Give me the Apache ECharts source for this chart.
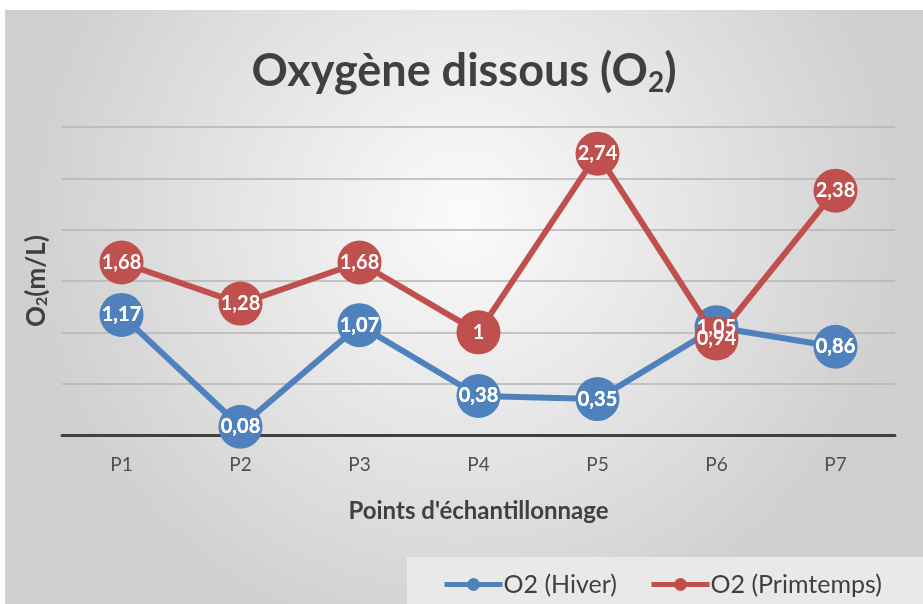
<!DOCTYPE html>
<html><head><meta charset="utf-8">
<script src="https://cdn.jsdelivr.net/npm/echarts@6/dist/echarts.min.js"></script>
<style>html,body{margin:0;padding:0;background:#fff;}#c{position:absolute;left:5px;top:10px;width:918px;height:594px;}</style>
</head><body><div id="c"></div>
<script>
const categories = ['P1','P2','P3','P4','P5','P6','P7'];
const hiver = [1.17,0.08,1.07,0.38,0.35,1.05,0.86];
const printemps = [1.68,1.28,1.68,1,2.74,0.94,2.38];
const seriesNames = ['O2 (Hiver)','O2 (Primtemps)'];
const FONT = 'Lato, "Open Sans", sans-serif';
const chart = echarts.init(document.getElementById('c'));
const fmt = p => String(p.value).replace('.', ',');
const lbl = {show:true, position:'inside', formatter:fmt, color:'#fff', fontFamily:FONT, fontWeight:'bold', fontSize:20};
function mk(name, data, color, z){
  return {name, type:'line', data, z,
    symbol:'circle', symbolSize:44,
    lineStyle:{width:6,color}, itemStyle:{color},
    label:lbl, emphasis:{disabled:true}, animation:false};
}
function labelsOnly(name, data, z){
  return {name, type:'line', data, z, symbol:'circle', symbolSize:44,
    itemStyle:{color:'rgba(0,0,0,0)'}, lineStyle:{color:'rgba(0,0,0,0)', width:0}, label:lbl,
    emphasis:{disabled:true}, animation:false, silent:true};
}
chart.setOption({
  backgroundColor:{type:'radial',x:0.5,y:0.35,r:0.75,colorStops:[{offset:0,color:'#fbfbfb'},{offset:1,color:'#cfcfcf'}]},
  title:{text:'Oxygène dissous (O{s|2})', left:'center', top:30,
    textStyle:{fontFamily:FONT,fontWeight:'bold',fontSize:45,color:'#404040',
      rich:{s:{fontFamily:FONT,fontWeight:'bold',fontSize:28,color:'#404040',verticalAlign:'bottom',padding:[24,0,0,0]}}}},
  grid:{left:57, right:28, top:117, bottom:169},
  xAxis:{type:'category', data:categories, boundaryGap:true,
    axisLine:{lineStyle:{color:'#404040',width:3}}, axisTick:{show:false},
    axisLabel:{color:'#505050',fontFamily:FONT,fontSize:19,margin:20},
    name:"Points d'échantillonnage", nameLocation:'middle', nameGap:64,
    nameTextStyle:{fontFamily:FONT,fontWeight:'bold',fontSize:24,color:'#404040'}},
  yAxis:{type:'value', min:0, max:3, interval:0.5,
    axisLabel:{show:false}, axisLine:{show:false}, axisTick:{show:false},
    splitLine:{lineStyle:{color:'#b4b4b4',width:1.5}},
    name:'O{s|2}(m/L)', nameLocation:'middle', nameGap:12, nameRotate:90,
    nameTextStyle:{fontFamily:FONT,fontWeight:'bold',fontSize:26,color:'#404040',
      rich:{s:{fontFamily:FONT,fontWeight:'bold',fontSize:16,color:'#404040',padding:[10,0,0,0]}}}},
  legend:{data:seriesNames, left:432, top:557, itemWidth:58, itemHeight:16, itemGap:32,
    lineStyle:{width:5},
    textStyle:{fontFamily:FONT,fontSize:25,color:'#404040',padding:[0,0,0,-4]}},
  graphic:[{type:'rect', left:402, top:547, shape:{width:520,height:50}, style:{fill:'#e9e9e9'}, z:-1, silent:true}],
  series:[mk(seriesNames[0],hiver,'#4F81BD',2), mk(seriesNames[1],printemps,'#C0504D',3),
    labelsOnly('labels-hiver',hiver,4)]
});
</script></body></html>
